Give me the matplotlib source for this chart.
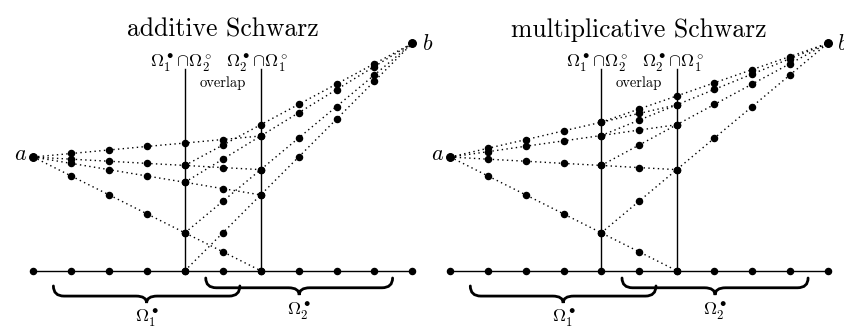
import matplotlib
matplotlib.use('Agg')
import matplotlib.pyplot as plt
import numpy as np
from matplotlib.path import Path
from matplotlib.patches import PathPatch

plt.rcParams['mathtext.fontset'] = 'cm'
plt.rcParams['font.family'] = ['cmr10', 'DejaVu Serif']
plt.rcParams['axes.unicode_minus'] = False

# grid nodes and boundary values
nodes = np.arange(11)
a_val = 1.0
b_val = 2.0
sub1_nodes = np.arange(0, 7)    # Omega_1 with its boundary node 6
sub2_nodes = np.arange(4, 11)   # Omega_2 with its boundary node 4
interface_nodes = [4, 6]

# iterates (values on sub1_nodes / sub2_nodes)
additive_sub1 = [
    [1.0, 0.833, 0.667, 0.5, 0.333, 0.167, 0.0],
    [1.0, 0.944, 0.889, 0.833, 0.778, 0.722, 0.667],
    [1.0, 0.981, 0.963, 0.944, 0.926, 0.907, 0.889],
    [1.0, 1.031, 1.062, 1.093, 1.123, 1.154, 1.185],
]
additive_sub2 = [
    [0.0, 0.333, 0.667, 1.0, 1.333, 1.667, 2.0],
    [0.333, 0.611, 0.889, 1.167, 1.444, 1.722, 2.0],
    [0.778, 0.981, 1.185, 1.389, 1.593, 1.796, 2.0],
    [0.926, 1.105, 1.284, 1.463, 1.642, 1.821, 2.0],
]
multiplicative_sub1 = [
    [1.0, 0.833, 0.667, 0.5, 0.333, 0.167, 0.0],
    [1.0, 0.981, 0.963, 0.944, 0.926, 0.907, 0.889],
    [1.0, 1.047, 1.095, 1.142, 1.189, 1.237, 1.284],
    [1.0, 1.077, 1.153, 1.230, 1.306, 1.383, 1.459],
]
multiplicative_sub2 = [
    [0.333, 0.611, 0.889, 1.167, 1.444, 1.722, 2.0],
    [0.926, 1.105, 1.284, 1.463, 1.642, 1.821, 2.0],
    [1.189, 1.324, 1.459, 1.595, 1.730, 1.865, 2.0],
    [1.306, 1.422, 1.537, 1.653, 1.769, 1.884, 2.0],
]

iface_labels = [r'$\Omega_1^\bullet\!\cap\!\Omega_2^\circ$',
                r'$\Omega_2^\bullet\!\cap\!\Omega_1^\circ$']


def draw_brace(ax, x0, x1, y_end, y_mid, y_tip, r=0.28):
    xm = (x0 + x1) / 2
    verts = [(x0, y_end), (x0, y_mid), (x0 + r, y_mid),
             (xm - r, y_mid), (xm, y_mid), (xm, y_tip),
             (xm, y_mid), (xm + r, y_mid),
             (x1 - r, y_mid), (x1, y_mid), (x1, y_end)]
    codes = [Path.MOVETO, Path.CURVE3, Path.CURVE3,
             Path.LINETO, Path.CURVE3, Path.CURVE3,
             Path.CURVE3, Path.CURVE3,
             Path.LINETO, Path.CURVE3, Path.CURVE3]
    ax.add_patch(PathPatch(Path(verts, codes), fill=False, lw=2.0,
                           color='black', capstyle='round'))


def draw_panel(ax, title, sub1_iters, sub2_iters):
    ax.text(5, 2.058, title, ha='center', va='baseline', fontsize=18.5)

    # interfaces
    for k, xi in enumerate(interface_nodes):
        ax.plot([xi, xi], [0, 1.774], color='black', lw=1.0, zorder=2)
        ax.text(xi - 0.1, 1.789, iface_labels[k], ha='center',
                va='baseline', fontsize=13)
    ax.text(5, 1.65, 'overlap', ha='center', va='center', fontsize=10.5)

    # iterates
    for vals in sub1_iters:
        ax.plot(sub1_nodes, vals, color='black', lw=1.0,
                linestyle=(0, (1, 2.4)), zorder=1)
        ax.plot(sub1_nodes, vals, 'o', color='black', ms=4.4, zorder=3)
    for vals in sub2_iters:
        ax.plot(sub2_nodes, vals, color='black', lw=1.0,
                linestyle=(0, (1, 2.4)), zorder=1)
        ax.plot(sub2_nodes, vals, 'o', color='black', ms=4.4, zorder=3)

    # ground line with nodes
    ax.plot(nodes, np.zeros(len(nodes)), color='black', lw=1.0, zorder=2)
    ax.plot(nodes, np.zeros(len(nodes)), 'o', color='black', ms=4.4,
            zorder=3)

    # end points a and b
    ax.plot([nodes[0], nodes[-1]], [a_val, b_val], 'o', color='black',
            ms=5.4, zorder=4)
    ax.text(-0.17, 0.975, r'$a$', ha='right', va='baseline', fontsize=16,
            clip_on=False)
    ax.text(10.25, 1.94, r'$b$', ha='left', va='baseline', fontsize=16,
            clip_on=False)

    # subdomain braces
    draw_brace(ax, 0.53, 5.45, -0.134, -0.223, -0.284)
    draw_brace(ax, 4.55, 9.48, -0.064, -0.150, -0.214)
    ax.text(3, -0.449, r'$\Omega_1^\bullet$', ha='center', va='baseline',
            fontsize=13)
    ax.text(7, -0.39, r'$\Omega_2^\bullet$', ha='center', va='baseline',
            fontsize=13)


fig = plt.figure(figsize=(8.44, 3.27), dpi=100)
ax1 = fig.add_axes([0, 0, 0.5, 1])
ax2 = fig.add_axes([0.5, 0, 0.5, 1])

draw_panel(ax1, 'additive Schwarz', additive_sub1, additive_sub2)
draw_panel(ax2, 'multiplicative Schwarz', multiplicative_sub1,
           multiplicative_sub2)

ax1.set_xlim(-0.879, 10.256)
ax2.set_xlim(-0.75, 10.432)
for ax in (ax1, ax2):
    ax.set_ylim(-0.495, 2.381)
    ax.axis('off')
    ax.patch.set_visible(False)

plt.savefig('out.png', dpi=100)
